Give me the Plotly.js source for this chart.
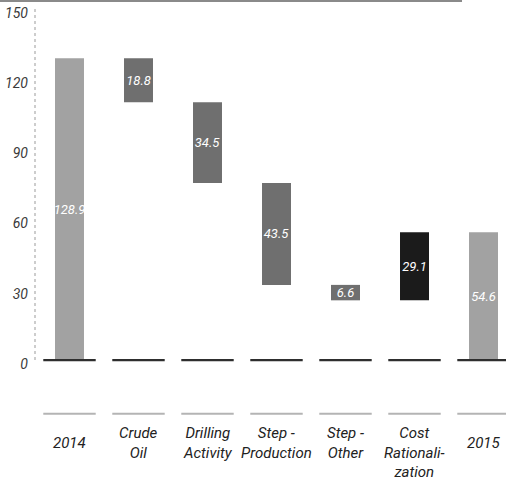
<!DOCTYPE html>
<html>
<head>
<meta charset="utf-8">
<script src="https://cdn.plot.ly/plotly-3.0.1.min.js"></script>
<style>html,body{margin:0;padding:0;background:#fff;}#chart{width:506px;height:485px;}</style>
</head>
<body>
<div id="chart"></div>
<script>
const categories = ['2014', 'Crude Oil', 'Drilling Activity', 'Step - Production', 'Step - Other', 'Cost Rationalization', '2015'];
const tickLabels = ['2014', 'Crude<br>Oil', 'Drilling<br>Activity', 'Step -<br>Production', 'Step -<br>Other', 'Cost<br>Rationali-<br>zation', '2015'];
const measures = ['absolute', 'relative', 'relative', 'relative', 'relative', 'relative', 'total'];
const changes = [128.9, -18.8, -34.5, -43.5, -6.6, 29.1, 54.6];
const barLabels = ['128.9', '18.8', '34.5', '43.5', '6.6', '29.1', '54.6'];
const yTicks = [0, 30, 60, 90, 120, 150];

const FONT = 'Roboto, "Liberation Sans", sans-serif';

const waterfall = {
  type: 'waterfall',
  x: categories,
  y: changes,
  measure: measures,
  text: barLabels,
  textposition: 'inside',
  insidetextanchor: 'middle',
  textangle: 0,
  constraintext: 'none',
  textfont: {family: FONT, size: 13, color: '#ffffff', style: 'italic'},
  width: 0.42,
  connector: {visible: false},
  increasing: {marker: {color: '#1b1b1b'}},
  decreasing: {marker: {color: '#6f6f6f'}},
  totals: {marker: {color: '#a2a2a2'}},
  hoverinfo: 'skip',
  showlegend: false
};

// zero baseline segments under each category
const zeroLine = {
  type: 'bar',
  x: categories,
  y: categories.map(() => 1.0),
  base: categories.map(() => -0.55),
  width: 0.76,
  marker: {color: '#2e2e2e'},
  hoverinfo: 'skip',
  showlegend: false
};

// light gray separator segments above the category labels
const labelLine = {
  type: 'bar',
  x: categories,
  y: categories.map(() => 0.9),
  base: categories.map(() => -23.4),
  width: 0.76,
  marker: {color: '#b4b4b4'},
  hoverinfo: 'skip',
  showlegend: false
};

const annotations = categories.map((c, i) => ({
  x: i, xref: 'x',
  y: 0, yref: 'paper',
  yanchor: 'top',
  yshift: tickLabels[i].includes('<br>') ? -7 : -17,
  text: tickLabels[i],
  showarrow: false,
  align: 'center',
  font: {family: FONT, size: 15, color: '#222222', style: 'italic'}
}));

const layout = {
  width: 506, height: 485,
  margin: {l: 35, r: 0, t: 5, b: 70},
  paper_bgcolor: '#ffffff',
  plot_bgcolor: '#ffffff',
  barmode: 'overlay',
  xaxis: {
    type: 'category',
    categoryarray: categories,
    range: [-0.5, 6.326],
    showticklabels: false,
    showgrid: false, zeroline: false, showline: false, ticks: ''
  },
  yaxis: {
    range: [-23.5, 151.7],
    tickvals: yTicks,
    ticktext: yTicks.map(String),
    showgrid: false, zeroline: false, showline: false, ticks: '',
    ticklabelstandoff: 6,
    ticklabelshift: 4,
    tickfont: {family: FONT, size: 14, color: '#3a3a3a', style: 'italic'}
  },
  shapes: [
    {type: 'line', xref: 'paper', yref: 'y', x0: 0, x1: 0, y0: 0, y1: 150,
     line: {color: '#bdbdbd', width: 1.5, dash: 'dot'}},
    {type: 'line', xref: 'paper', yref: 'paper', x0: -0.0743, x1: 0.9066, y0: 1.0098, y1: 1.0098,
     line: {color: '#8a8a8a', width: 2}}
  ],
  annotations: annotations,
  showlegend: false
};

Plotly.newPlot('chart', [waterfall, zeroLine, labelLine], layout, {displayModeBar: false, staticPlot: true});
</script>
</body>
</html>
